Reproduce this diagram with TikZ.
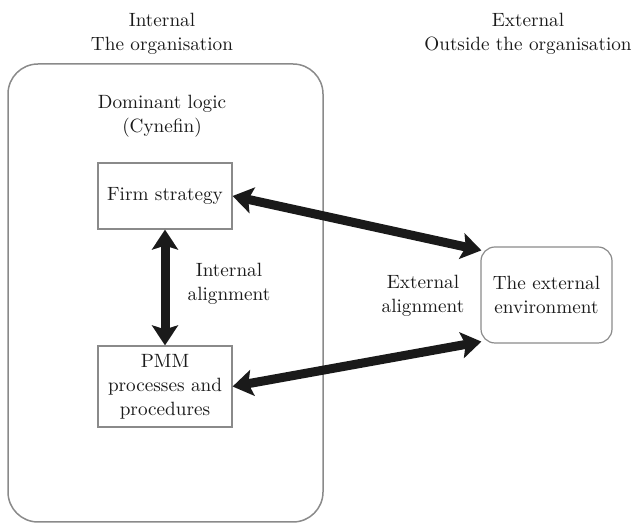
\documentclass[tikz,border=0pt]{standalone}
\usetikzlibrary{arrows.meta,calc}
\definecolor{framegray}{HTML}{8A8A8A}
\definecolor{inkblack}{HTML}{1A1A1A}
\tikzset{
	boxnode/.style={draw=framegray, line width=0.6pt, align=center, text=inkblack, inner sep=1pt},
	labelnode/.style={align=center, text=inkblack, inner sep=0pt},
	bigarrow/.style={line width=4.5pt, inkblack, {Stealth[length=10pt,width=13pt,inset=2pt]}-{Stealth[length=10pt,width=13pt,inset=2pt]}}
}

\begin{document}
\begin{tikzpicture}[x=0.5pt, y=-0.5pt, font=\fontsize{9.6}{12}\selectfont]
			%%%%% START %%%%%
			\useasboundingbox (0, 0) rectangle (633, 523);
			
			% headers
			\node[labelnode] (internal) at (162, 34) {Internal\\The organisation};
			\node[labelnode] (external) at (528, 34) {External\\Outside the organisation};
			
			% the organisation
			\draw[framegray, line width=0.75pt, rounded corners=15pt] (8, 64) rectangle (323, 522);
			\node[labelnode] (logic) at (162, 116) {Dominant logic\\(Cynefin)};
			
			\node[boxnode, minimum width=67pt, minimum height=33pt] (firm) at (165, 196) {Firm strategy};
			\node[boxnode, minimum width=67pt, minimum height=40.5pt] (pmm) at (165, 386.5) {PMM\\processes and\\procedures};
			
			% the environment
			\node[boxnode, rounded corners=7pt, minimum width=65.5pt, minimum height=48pt] (env) at (546.5, 295) {The external\\environment};
			
			% alignment
			\draw[bigarrow] (firm.south) -- (pmm.north);
			\node[labelnode] (intalign) at (229, 284) {Internal\\alignment};
			
			\draw[bigarrow] (firm.east) -- ($(env.north west)+(1, 4)$);
			\draw[bigarrow] (pmm.east) -- ($(env.south west)+(1, -2)$);
			\node[labelnode] (extalign) at (423, 296) {External\\alignment};
			
			%%%%% END %%%%%
\end{tikzpicture}
\end{document}
